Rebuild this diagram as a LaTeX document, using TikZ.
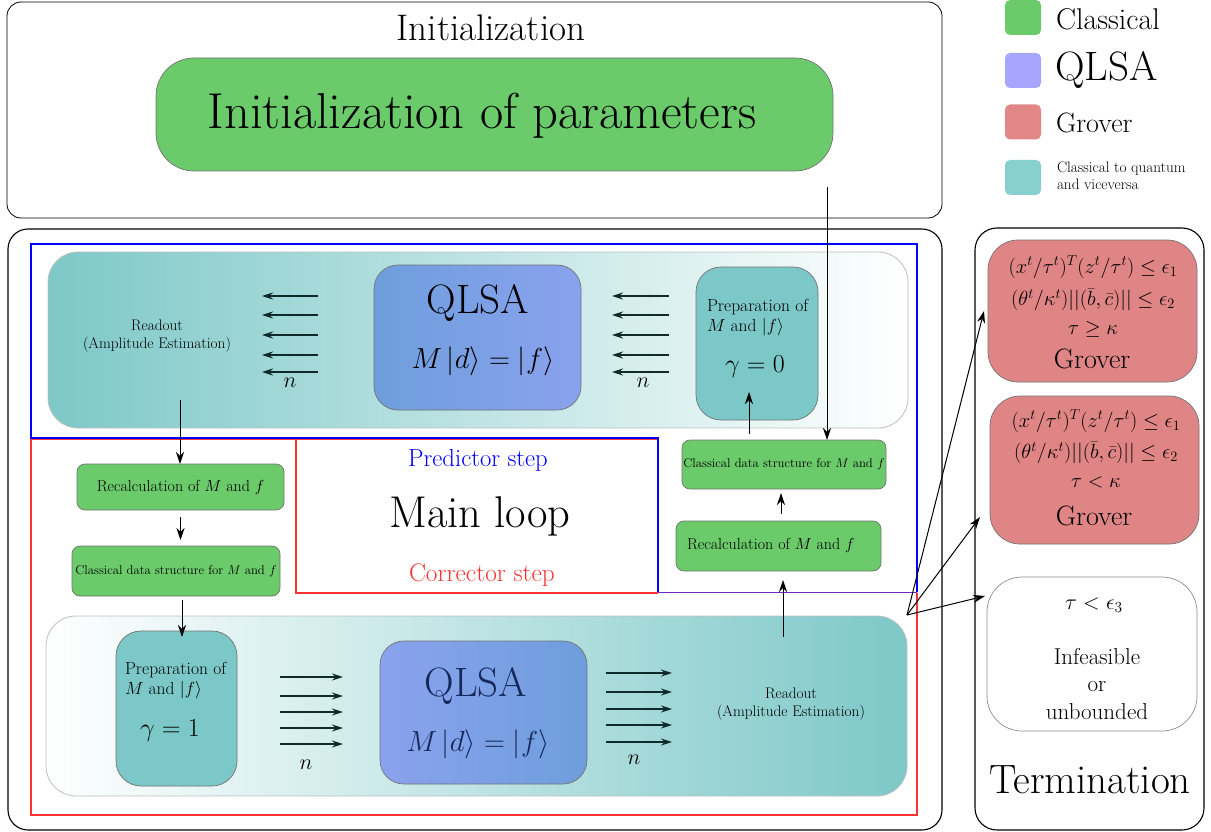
\RequirePackage{fix-cm}
\documentclass[tikz,border=0pt]{standalone}
\usepackage{amssymb}
\usetikzlibrary{arrows.meta,calc}
\definecolor{cgreen}{HTML}{6BCB6B}
\definecolor{cteal}{HTML}{7CC8C8}
\definecolor{gteal}{HTML}{7EC8C8}
\definecolor{qA}{HTML}{6E9EDC}
\definecolor{qB}{HTML}{8AA2EE}
\definecolor{lblue}{HTML}{A6A6FF}
\definecolor{lred}{HTML}{E28787}
\definecolor{lteal}{HTML}{88CFCF}
\definecolor{gred}{HTML}{E08585}
\definecolor{cblue}{rgb}{0,0,1}
\definecolor{cred}{rgb}{1,0.2,0.2}
\definecolor{cpurple}{rgb}{0.45,0.15,0.8}
\definecolor{cdark}{HTML}{0F2A2A}
\definecolor{navy}{HTML}{14285A}
\newcommand{\fz}[2]{\fontsize{#1}{#2}\selectfont}
\begin{document}
\begin{tikzpicture}[x=1pt,y=-1pt,
  every node/.style={outer sep=0pt,inner sep=0pt},
  arr/.style={-{Stealth[length=12pt,width=8pt]},line width=1pt,black},
  barr/.style={-{Stealth[length=11pt,width=7pt]},line width=1.2pt,cdark},
  frame/.style={draw=black,line width=1.1pt},
  cbox/.style={draw=black!55,line width=0.7pt},
  gbox/.style={cbox,fill=cgreen,rounded corners=8pt},
  legsq/.style={minimum width=36pt,minimum height=35pt,rounded corners=5pt},
  stepline/.style={line width=1.2pt}
]
\useasboundingbox (0,0) rectangle (1211,832);

% ---------- Initialization ----------
\node[frame,line width=0.8pt,rounded corners=14pt,minimum width=935pt,minimum height=216pt] (initOuter) at (474.5,110) {};
\node[font=\fz{37}{42}] (initTitle) at (491,28) {Initialization};
\node[cbox,fill=cgreen,rounded corners=38pt,minimum width=677pt,minimum height=113pt] (initBox) at (494.5,114.5) {};
\node[font=\fz{50.5}{58}] (initText) at (482,116) {Initialization of parameters};

% ---------- Legend ----------
\node[legsq,fill=cgreen] (legG) at (1023,17.5) {};
\node[legsq,fill=lblue] (legQ) at (1023,70.5) {};
\node[legsq,fill=lred] (legR) at (1023,122) {};
\node[legsq,fill=lteal] (legT) at (1023,177.5) {};
\node[anchor=west,font=\fz{30}{34}] (legGt) at (1056,19) {Classical};
\node[anchor=west,font=\fz{41}{45}] (legQt) at (1055,70) {QLSA};
\node[anchor=west,font=\fz{28}{32}] (legRt) at (1056,123) {Grover};
\node[anchor=west,align=left,font=\fz{15.2}{17}] (legTt) at (1057,176) {Classical to quantum\\and viceversa};

% ---------- Main frame ----------
\node[frame,rounded corners=20pt,minimum width=934pt,minimum height=601pt] (mainOuter) at (475,529.5) {};
\node[frame,rounded corners=22pt,minimum width=229pt,minimum height=602pt] (termOuter) at (1089.5,529) {};

% red / blue step outlines
\draw[cred,stepline] (31,439) -- (31,815) -- (917,815) -- (917,593);
\draw[cred,stepline] (31,439) -- (658,439);
\draw[cred,stepline] (658,593) -- (296,593) -- (296,439);
\draw[cblue,stepline] (917,592) -- (917,244) -- (31,244) -- (31,438) -- (658,438) -- (658,592);
\draw[cpurple,stepline] (658,592.5) -- (917,592.5);

\node[text=cblue,font=\fz{24.7}{28}] (pred) at (478,460) {Predictor step};
\node[font=\fz{44.5}{50}] (mainloop) at (480,516) {Main loop};
\node[text=cred,font=\fz{25.4}{28}] (corr) at (482,575) {Corrector step};

% ---------- Top (predictor) container ----------
\node[draw=black!25,line width=0.8pt,rounded corners=30pt,left color=gteal,right color=white,minimum width=860pt,minimum height=176pt] (topC) at (478,340) {};
\node[align=center,font=\fz{15.3}{18}] (read1) at (157,336) {Readout\\(Amplitude Estimation)};
\node[cbox,rounded corners=24pt,left color=qA,right color=qB,minimum width=207pt,minimum height=145pt] (qlsa1) at (477.5,337.5) {};
\node[font=\fz{41}{45}] (qlsa1t) at (478,303) {QLSA};
\node[font=\fz{29}{32}] (qlsa1e) at (483,361) {$M\,|d\rangle = |f\rangle$};
\node[cbox,fill=cteal,rounded corners=25pt,minimum width=122pt,minimum height=153pt] (prep0) at (757,343.5) {};
\node[anchor=west,align=left,font=\fz{17.5}{20}] (prep0t) at (707,318) {Preparation of\\$M$ and $|f\rangle$};
\node[font=\fz{26}{30}] (gam0) at (755,367) {$\gamma=0$};
\foreach \yy in {296,315,335,355,372} {
  \draw[barr] (318,\yy) -- (262,\yy);
  \draw[barr] (669,\yy) -- (612,\yy);
}
\node[font=\fz{22}{24}] (n1) at (290,383) {$n$};
\node[font=\fz{22}{24}] (n2) at (643,383) {$n$};

% ---------- Left column (corrector) ----------
\node[gbox,minimum width=207pt,minimum height=46pt,font=\fz{16}{18}] (recalcL) at (180.5,487) {Recalculation of $M$ and $f$};
\node[gbox,minimum width=208pt,minimum height=50pt,font=\fz{12.7}{15}] (classDSL) at (176,571) {Classical data structure for $M$ and $f$};

% ---------- Right column (predictor) ----------
\node[gbox,minimum width=204pt,minimum height=49pt,font=\fz{12.7}{15}] (classDSR) at (784,464.5) {Classical data structure for $M$ and $f$};
\node[gbox,minimum width=205pt,minimum height=50pt] (recalcR) at (778.5,546) {};
\node[anchor=west,font=\fz{16}{18}] (recalcRt) at (687,545) {Recalculation of $M$ and $f$};

% ---------- Bottom (corrector) container ----------
\node[draw=black!25,line width=0.8pt,rounded corners=30pt,left color=white,right color=gteal,minimum width=861pt,minimum height=180pt] (botC) at (476.5,706) {};
\node[cbox,fill=cteal,rounded corners=25pt,minimum width=121pt,minimum height=155pt] (prep1) at (176.5,708.5) {};
\node[anchor=west,align=left,font=\fz{17.5}{20}] (prep1t) at (125,681) {Preparation of\\$M$ and $|f\rangle$};
\node[font=\fz{26}{30}] (gam1) at (170,731) {$\gamma=1$};
\node[cbox,rounded corners=24pt,left color=qB,right color=qA,minimum width=207pt,minimum height=143pt] (qlsa2) at (483.5,712.5) {};
\node[text=navy,font=\fz{41}{45}] (qlsa2t) at (476,686) {QLSA};
\node[text=navy,font=\fz{29}{32}] (qlsa2e) at (478,744) {$M\,|d\rangle = |f\rangle$};
\node[align=center,font=\fz{15.3}{18}] (read2) at (791,704) {Readout\\(Amplitude Estimation)};
\foreach \yy in {677,696,712,728,744} { \draw[barr] (280,\yy) -- (343,\yy); }
\foreach \yy in {673,692,709,725,742} { \draw[barr] (606,\yy) -- (672,\yy); }
\node[font=\fz{22}{24}] (n3) at (306,765) {$n$};
\node[font=\fz{22}{24}] (n4) at (634,760) {$n$};

% ---------- Termination ----------
\node[cbox,fill=gred,rounded corners=30pt,minimum width=209pt,minimum height=142pt] (grover1) at (1092.5,311) {};
\node[font=\fz{20.5}{22}] (g1a) at (1093,267) {$(x^t/\tau^t)^T(z^t/\tau^t)\leq\epsilon_1$};
\node[font=\fz{20.5}{22}] (g1b) at (1093,300) {$(\theta^t/\kappa^t)||(\bar{b},\bar{c})||\leq\epsilon_2$};
\node[font=\fz{20.5}{22}] (g1c) at (1093,329) {$\tau\geq\kappa$};
\node[font=\fz{28}{30}] (g1d) at (1092,359) {Grover};
\node[cbox,fill=gred,rounded corners=30pt,minimum width=209pt,minimum height=148pt] (grover2) at (1094.5,470) {};
\node[font=\fz{20.5}{22}] (g2a) at (1096,421) {$(x^t/\tau^t)^T(z^t/\tau^t)\leq\epsilon_1$};
\node[font=\fz{20.5}{22}] (g2b) at (1096,453) {$(\theta^t/\kappa^t)||(\bar{b},\bar{c})||\leq\epsilon_2$};
\node[font=\fz{20.5}{22}] (g2c) at (1096,482) {$\tau<\kappa$};
\node[font=\fz{28}{30}] (g2d) at (1094,516) {Grover};
\node[draw=black!45,line width=0.7pt,rounded corners=35pt,minimum width=210pt,minimum height=154pt] (infeas) at (1092,654) {};
\node[font=\fz{22}{26}] (inf1) at (1094,605) {$\tau<\epsilon_3$};
\node[align=center,font=\fz{23}{27.5}] (inf2) at (1097,684) {Infeasible\\or\\unbounded};
\node[font=\fz{41}{46}] (termt) at (1090,780) {Termination};

% ---------- Connectors ----------
\coordinate (initOut) at (827,187);
\draw[arr,line width=0.8pt] (initOut) -- (initOut |- classDSR.north);
\coordinate (r1out) at (180,400);
\draw[arr] (r1out) -- (r1out |- recalcL.north);
\draw[arr,shorten <=7pt,shorten >=6pt] (recalcL.south) -- (recalcL.south |- classDSL.north);
\draw[arr,shorten <=4pt,shorten >=-6pt] ([xshift=6pt]classDSL.south) -- ([xshift=6pt]classDSL.south |- prep1.north);
\coordinate (r2out) at (783,637);
\draw[arr,shorten >=9pt] (r2out) -- (r2out |- recalcR.south);
\draw[arr,shorten <=7pt,shorten >=4pt] ([xshift=2.5pt]recalcR.north) -- ([xshift=2.5pt]recalcR.north |- classDSR.south);
\draw[arr,shorten <=6pt,shorten >=-28pt] ([xshift=-35pt]classDSR.north) -- ([xshift=-35pt]classDSR.north |- prep0.south);
\coordinate (corner) at (907,615);
\draw[arr] (corner) -- ([xshift=-4pt]grover1.west);
\draw[arr] (corner) -- ($(grover2.west)+(-10,47)$);
\draw[arr] (corner) -- ($(infeas.west)+(-2,-58)$);
\end{tikzpicture}
\end{document}
